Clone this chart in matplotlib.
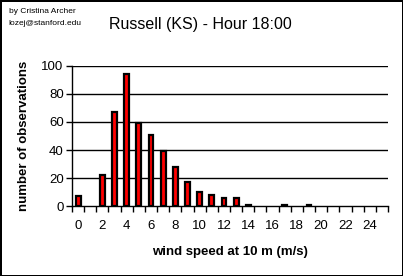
import numpy as np
import matplotlib.pyplot as plt

plt.rcParams['font.family'] = ['Liberation Sans', 'DejaVu Sans']

# wind speed classes (m/s) and counts
speeds = list(range(26))
counts = [7, 0, 22, 67, 94, 59, 51, 39, 28, 17, 10, 8, 6, 6, 1,
          0, 0, 1, 0, 1, 0, 0, 0, 0, 0, 0]
xtick_labels = [str(s) for s in range(0, 26, 2)]
yticks = [0, 20, 40, 60, 80, 100]

fig = plt.figure(figsize=(4.03, 2.76), dpi=100)
fig.patch.set_edgecolor('black')
fig.patch.set_linewidth(2)

ax = fig.add_axes([0.1787, 0.2536, 0.7841, 0.5073])

# only draw classes that have observations
sp = np.array(speeds)
ct = np.array(counts)
nz = ct > 0
ax.bar(sp[nz], ct[nz], width=0.4, color='red', edgecolor='black', linewidth=1.6, zorder=3)

ax.set_xlim(-0.5, 25.5)
ax.set_ylim(0, 100)

# horizontal gridlines
for y in yticks[1:]:
    ax.axhline(y, color='black', lw=1, zorder=1)

for s in ['top', 'right']:
    ax.spines[s].set_visible(False)
ax.spines['left'].set_linewidth(1)
ax.spines['bottom'].set_linewidth(1)

# ticks between categories, labels at every second category
ax.set_xticks(np.arange(-0.5, 26, 1))
ax.set_xticklabels([])
ax.set_xticks(np.arange(0, 26, 2), minor=True)
ax.set_xticklabels(xtick_labels, minor=True)
ax.tick_params(axis='x', which='major', direction='out', length=4, width=1, color='black')
ax.tick_params(axis='x', which='minor', length=0, pad=10, labelsize=9.5)

ax.set_yticks(yticks)
ax.tick_params(axis='y', direction='out', length=4, width=1, pad=2, labelsize=9.5)

ax.set_xlabel('wind speed at 10 m (m/s)', fontsize=9.5, fontweight='bold', labelpad=10)
ax.set_ylabel('number of observations', fontsize=9.5, fontweight='bold', labelpad=8)

fig.text(0.497, 0.91, 'Russell (KS) - Hour 18:00', ha='center', va='center', fontsize=11.5)
fig.text(0.022, 0.957, 'by Cristina Archer', ha='left', va='center', fontsize=6)
fig.text(0.022, 0.914, 'lozej@stanford.edu', ha='left', va='center', fontsize=6)

fig.savefig('out.png', dpi=100)
